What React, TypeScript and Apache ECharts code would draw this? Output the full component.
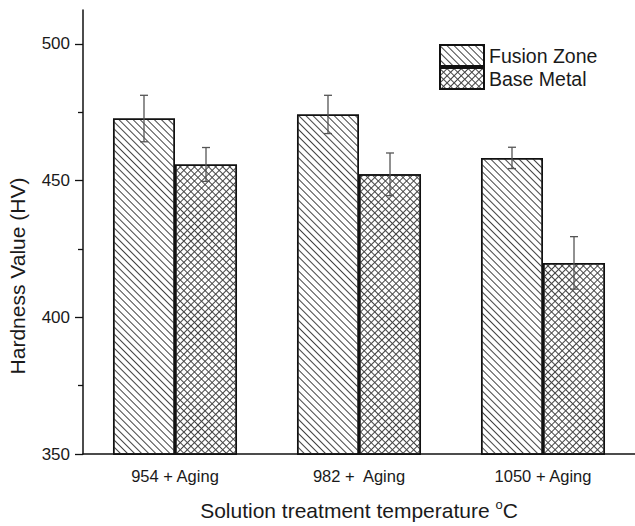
import React, { useEffect, useRef } from 'react';
import * as echarts from 'echarts';

const categories = ['954 + Aging', '982 +  Aging', '1050 + Aging'];
const seriesNames = ['Fusion Zone', 'Base Metal'];
const fusionZone = [472.7, 474.2, 458.3];
const fusionZoneErr = [8.5, 7.0, 3.9];
const baseMetal = [455.9, 452.3, 419.9];
const baseMetalErr = [6.2, 7.8, 9.6];
const majorTicks = [350, 400, 450, 500];
const minorTicks = [375, 425, 475];
const yMin = 350;
const yMax = 512.4;

const BAR_PCT = 0.337;
const FONT = '"Liberation Sans", Arial, Helvetica, sans-serif';
const TEXT = '#1a1a1a';

export default function App() {
  const ref = useRef<HTMLDivElement>(null);
  useEffect(() => {
    const chart = echarts.init(ref.current as HTMLDivElement, null, { renderer: 'svg' });
    const errData: number[][] = [];
    fusionZone.forEach((v, i) => errData.push([i, v - fusionZoneErr[i], v + fusionZoneErr[i], 0]));
    baseMetal.forEach((v, i) => errData.push([i, v - baseMetalErr[i], v + baseMetalErr[i], 1]));

    const renderErr = (_params: any, api: any) => {
      const cat = api.value(0);
      const lo = api.coord([cat, api.value(1)]);
      const hi = api.coord([cat, api.value(2)]);
      const band = api.size([1, 0])[0];
      const bw = band * BAR_PCT;
      const x = lo[0] + (api.value(3) === 0 ? -bw / 2 : bw / 2);
      const cap = 4;
      const style = { stroke: '#555', lineWidth: 1.3 };
      return {
        type: 'group',
        children: [
          { type: 'line', shape: { x1: x, y1: lo[1], x2: x, y2: hi[1] }, style },
          { type: 'line', shape: { x1: x - cap, y1: hi[1], x2: x + cap, y2: hi[1] }, style },
          { type: 'line', shape: { x1: x - cap, y1: lo[1], x2: x + cap, y2: lo[1] }, style },
        ],
      };
    };

    const stripeDecal = {
      symbol: 'rect',
      symbolSize: 1,
      symbolKeepAspect: false,
      dashArrayX: [1, 0],
      dashArrayY: [1, 4],
      rotation: Math.PI / 4,
      color: '#444',
      backgroundColor: '#fff',
    };
    const crossDecal = {
      symbol: 'rect',
      symbolSize: 1,
      symbolKeepAspect: false,
      dashArrayX: [[1, 0], [1, 4]],
      dashArrayY: [1, 0, 4, 0],
      rotation: Math.PI / 4,
      color: '#444',
      backgroundColor: '#fff',
    };

    chart.setOption({
      animation: false,
      backgroundColor: '#fff',
      textStyle: { fontFamily: FONT, color: TEXT },
      grid: { left: 83, top: 10, right: -4, bottom: 61, containLabel: false },
      legend: {
        data: seriesNames,
        orient: 'vertical',
        left: 439,
        top: 44,
        itemWidth: 44,
        itemHeight: 21,
        itemGap: 0,
        padding: 0,
        icon: 'rect',
        textStyle: { fontSize: 19.5, color: TEXT, fontFamily: FONT },
      },
      xAxis: {
        type: 'category',
        data: categories,
        axisTick: { show: false },
        axisLine: { lineStyle: { color: '#111', width: 1.5 } },
        axisLabel: { fontSize: 16.5, color: TEXT, margin: 13, fontFamily: FONT },
        name: 'Solution treatment temperature {sup|o}C',
        nameLocation: 'middle',
        nameGap: 44,
        nameTextStyle: {
          fontSize: 21,
          color: TEXT,
          fontFamily: FONT,
          rich: { sup: { fontSize: 13, color: TEXT, fontFamily: FONT, padding: [0, 0, 12, 0] } },
        },
      },
      yAxis: [
        {
          type: 'value',
          min: yMin,
          max: yMax,
          interval: 50,
          splitLine: { show: false },
          axisLine: { show: true, lineStyle: { color: '#111', width: 1.5 } },
          axisTick: { show: true, length: 8, customValues: majorTicks, lineStyle: { color: '#111', width: 1.3 } },
          axisLabel: { fontSize: 17, color: TEXT, margin: 13, customValues: majorTicks, fontFamily: FONT },
        },
        {
          type: 'value',
          min: yMin,
          max: yMax,
          interval: 25,
          position: 'left',
          offset: 0,
          splitLine: { show: false },
          axisLine: { show: false },
          axisTick: { show: true, length: 5, customValues: minorTicks, lineStyle: { color: '#111', width: 1.3 } },
          axisLabel: { show: false },
        },
      ],
      graphic: [
        {
          type: 'text',
          x: 17,
          y: 276,
          rotation: Math.PI / 2,
          style: {
            text: 'Hardness Value (HV)',
            fontSize: 21,
            fontFamily: FONT,
            fill: TEXT,
            align: 'center',
            verticalAlign: 'middle',
          },
        },
      ],
      series: [
        {
          name: seriesNames[0],
          type: 'bar',
          data: fusionZone,
          barWidth: BAR_PCT * 100 + '%',
          barGap: '0%',
          itemStyle: { color: '#fff', borderColor: '#111', borderWidth: 1.5, decal: stripeDecal },
        },
        {
          name: seriesNames[1],
          type: 'bar',
          data: baseMetal,
          barWidth: BAR_PCT * 100 + '%',
          barGap: '0%',
          itemStyle: { color: '#fff', borderColor: '#111', borderWidth: 1.5, decal: crossDecal },
        },
        {
          type: 'custom',
          renderItem: renderErr,
          data: errData,
          z: 10,
          silent: true,
          encode: { x: 0, y: [1, 2] },
        },
      ],
    });
    return () => chart.dispose();
  }, []);
  return (
    <div
      ref={ref}
      style={{ position: 'fixed', left: 0, top: 0, width: 635, height: 526, background: '#fff' }}
    />
  );
}
